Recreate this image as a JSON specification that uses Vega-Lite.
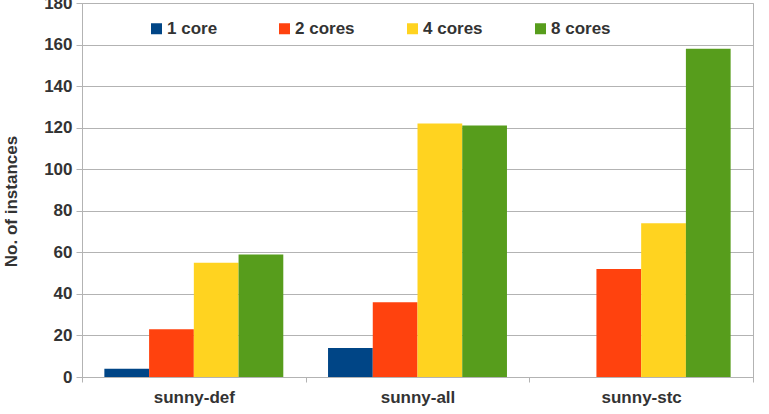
{
  "$schema": "https://vega.github.io/schema/vega-lite/v6.json",
  "autosize": "none",
  "width": 671,
  "height": 374,
  "padding": {"left": 82, "top": 3, "right": 16, "bottom": 37},
  "background": "white",
  "data": {
    "values": [
      {"solver": "sunny-def", "cores": "1 core", "instances": 4},
      {"solver": "sunny-def", "cores": "2 cores", "instances": 23},
      {"solver": "sunny-def", "cores": "4 cores", "instances": 55},
      {"solver": "sunny-def", "cores": "8 cores", "instances": 59},
      {"solver": "sunny-all", "cores": "1 core", "instances": 14},
      {"solver": "sunny-all", "cores": "2 cores", "instances": 36},
      {"solver": "sunny-all", "cores": "4 cores", "instances": 122},
      {"solver": "sunny-all", "cores": "8 cores", "instances": 121},
      {"solver": "sunny-stc", "cores": "1 core", "instances": 0},
      {"solver": "sunny-stc", "cores": "2 cores", "instances": 52},
      {"solver": "sunny-stc", "cores": "4 cores", "instances": 74},
      {"solver": "sunny-stc", "cores": "8 cores", "instances": 158}
    ]
  },
  "mark": {"type": "bar"},
  "encoding": {
    "x": {
      "field": "solver",
      "type": "nominal",
      "sort": ["sunny-def", "sunny-all", "sunny-stc"],
      "scale": {"paddingInner": 0, "paddingOuter": 0},
      "axis": {
        "title": null,
        "labelAngle": 0,
        "tickBand": "extent",
        "tickSize": 5,
        "labelPadding": 7,
        "grid": false
      }
    },
    "xOffset": {
      "field": "cores",
      "type": "nominal",
      "sort": ["1 core", "2 cores", "4 cores", "8 cores"],
      "scale": {"paddingInner": 0, "paddingOuter": 0.5}
    },
    "y": {
      "field": "instances",
      "type": "quantitative",
      "scale": {"domain": [0, 180], "nice": false},
      "axis": {
        "title": "No. of instances",
        "values": [0, 20, 40, 60, 80, 100, 120, 140, 160, 180],
        "tickSize": 6,
        "labelPadding": 4,
        "titleAngle": -90,
        "titleX": -71,
        "titleY": 198,
        "titleAlign": "center",
        "titleBaseline": "middle"
      }
    },
    "color": {
      "field": "cores",
      "type": "nominal",
      "sort": ["1 core", "2 cores", "4 cores", "8 cores"],
      "scale": {
        "domain": ["1 core", "2 cores", "4 cores", "8 cores"],
        "range": ["#004586", "#ff420e", "#ffd320", "#579d1c"]
      },
      "legend": {
        "title": null,
        "orient": "none",
        "legendX": 66,
        "legendY": 17,
        "direction": "horizontal",
        "columns": 4,
        "gridAlign": "all",
        "columnPadding": 49,
        "symbolType": "square",
        "symbolSize": 121,
        "symbolStrokeWidth": 0,
        "symbolOpacity": 1,
        "labelOffset": 2
      }
    }
  },
  "config": {
    "font": "Liberation Sans",
    "view": {"stroke": "#b3b3b3", "strokeWidth": 1},
    "axis": {
      "labelFont": "Liberation Sans",
      "labelFontSize": 17,
      "labelFontWeight": "bold",
      "labelColor": "#333333",
      "titleFont": "Liberation Sans",
      "titleFontSize": 17,
      "titleFontWeight": "bold",
      "titleColor": "#333333",
      "domainColor": "#b3b3b3",
      "tickColor": "#b3b3b3",
      "gridColor": "#b3b3b3",
      "domainWidth": 1,
      "gridWidth": 1
    },
    "legend": {
      "labelFont": "Liberation Sans",
      "labelFontSize": 17,
      "labelFontWeight": "bold",
      "labelColor": "#333333"
    }
  }
}
